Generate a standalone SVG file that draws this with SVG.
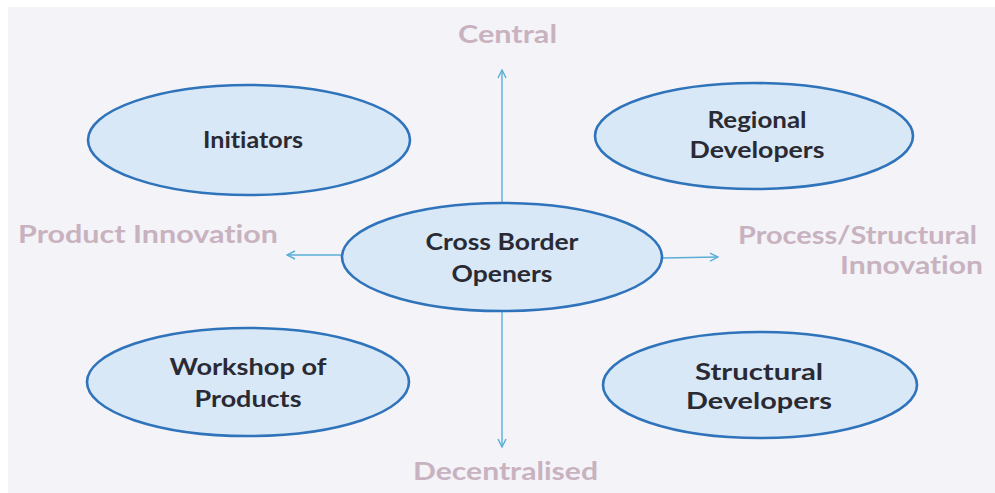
<svg xmlns="http://www.w3.org/2000/svg" width="995" height="493" viewBox="0 0 995 493">
<style>
.node ellipse{fill:#d8e8f6;stroke:#2f73bb;stroke-width:2.6}
.nt{font-family:Lato,"Open Sans","Liberation Sans",sans-serif;font-weight:bold;font-size:23px;fill:#2a2a34;text-anchor:middle;font-variant-ligatures:none}
.lb{font-family:Lato,"Open Sans","Liberation Sans",sans-serif;font-weight:bold;font-size:24px;fill:#c8b2bf;font-variant-ligatures:none}
.cn line{stroke:#5aaed6;stroke-width:1.4;fill:none}
</style>
<defs>
<marker id="ah" viewBox="0 0 10 10" refX="9" refY="5" markerWidth="10" markerHeight="10" markerUnits="userSpaceOnUse" orient="auto">
<path d="M1,1 L9,5 L1,9" fill="none" stroke="#5aaed6" stroke-width="1.4"/>
</marker>
</defs>
<rect x="0" y="0" width="995" height="493" fill="#ffffff"/>
<rect x="8" y="7" width="987" height="486" fill="#f4f3f8"/>
<g class="cn" id="connectors">
<line x1="502" y1="203" x2="502" y2="70" marker-end="url(#ah)"/>
<line x1="502" y1="311" x2="502" y2="447" marker-end="url(#ah)"/>
<line x1="342" y1="255" x2="287" y2="255" marker-end="url(#ah)"/>
<line x1="663" y1="258" x2="718" y2="257" marker-end="url(#ah)"/>
</g>
<g id="initiators" class="node">
<ellipse cx="249" cy="140" rx="161" ry="55"/>
<text class="nt" x="253" y="148" textLength="100" lengthAdjust="spacingAndGlyphs">Initiators</text>
</g>
<g id="regional-developers" class="node">
<ellipse cx="754" cy="136" rx="159" ry="53"/>
<text class="nt" x="757" y="128" textLength="99" lengthAdjust="spacingAndGlyphs">Regional</text>
<text class="nt" x="757" y="158" textLength="135" lengthAdjust="spacingAndGlyphs">Developers</text>
</g>
<g id="cross-border-openers" class="node">
<ellipse cx="502" cy="257" rx="160" ry="54"/>
<text class="nt" x="502" y="250" textLength="153" lengthAdjust="spacingAndGlyphs">Cross Border</text>
<text class="nt" x="502" y="282" textLength="101" lengthAdjust="spacingAndGlyphs">Openers</text>
</g>
<g id="workshop-of-products" class="node">
<ellipse cx="248" cy="382" rx="161" ry="54"/>
<text class="nt" x="248" y="375" textLength="157" lengthAdjust="spacingAndGlyphs">Workshop of</text>
<text class="nt" x="248" y="407" textLength="107" lengthAdjust="spacingAndGlyphs">Products</text>
</g>
<g id="structural-developers" class="node">
<ellipse cx="760" cy="385" rx="157" ry="53"/>
<text class="nt" x="759" y="380" textLength="128" lengthAdjust="spacingAndGlyphs">Structural</text>
<text class="nt" x="759" y="409" textLength="146" lengthAdjust="spacingAndGlyphs">Developers</text>
</g>
<g id="labels">
<text class="lb" x="458" y="43" textLength="99" lengthAdjust="spacingAndGlyphs">Central</text>
<text class="lb" x="18" y="243" textLength="260" lengthAdjust="spacingAndGlyphs">Product Innovation</text>
<text class="lb" x="738" y="244" textLength="239" lengthAdjust="spacingAndGlyphs">Process/Structural</text>
<text class="lb" x="840" y="274" textLength="143" lengthAdjust="spacingAndGlyphs">Innovation</text>
<text class="lb" x="413" y="480" textLength="185" lengthAdjust="spacingAndGlyphs">Decentralised</text>
</g>
</svg>
